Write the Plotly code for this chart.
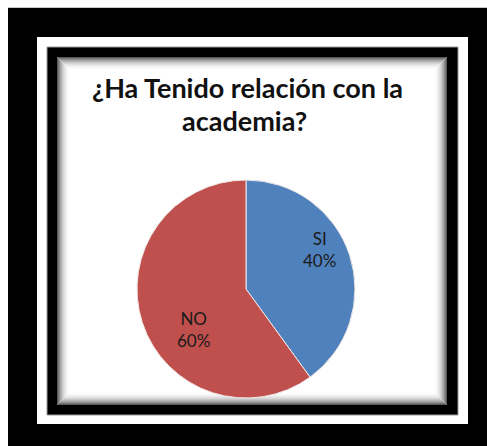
import plotly.graph_objects as go

# Survey answers and their shares (%)
categories = ["SI", "NO"]
shares = [40, 60]
slice_colors = ["#4F81BD", "#C0504D"]
title_lines = ["¿Ha Tenido relación con la", "academia?"]

W, H = 487, 446
FONT = "Lato, Carlito, 'Open Sans', sans-serif"


def px(x):
    return x / W


def py(y):
    return 1 - y / H


def rect(x0, y0, x1, y1, fill=None, line=None, lw=0):
    return dict(
        type="rect", xref="paper", yref="paper",
        x0=px(x0), y0=py(y1), x1=px(x1), y1=py(y0),
        fillcolor=fill if fill else "rgba(0,0,0,0)",
        line=dict(color=line if line else "rgba(0,0,0,0)", width=lw),
        layer="below",
    )


shapes = [
    # thin grey rule on top of the frame
    dict(type="line", xref="paper", yref="paper", x0=px(8), x1=1,
         y0=py(7.5), y1=py(7.5), line=dict(color="#c8c8c8", width=1), layer="below"),
    # outer black frame
    rect(8, 8, 490, 450, fill="#000000"),
    # white strip
    rect(37, 37, 468, 424, fill="#ffffff"),
    # inner black frame
    rect(47, 47, 458, 415, fill="#000000", line="#9a9a9a", lw=1),
    # chart area
    rect(57, 57, 447, 405, fill="#ffffff"),
]

# inner shadow along the chart-area edge
shadow = ["#5a5a5a", "#777777", "#8f8f8f", "#a4a4a4", "#b6b6b6", "#c6c6c6",
          "#d4d4d4", "#e0e0e0", "#eaeaea", "#f2f2f2", "#f8f8f8", "#fcfcfc"]
for i, c in enumerate(shadow):
    shapes.append(rect(57.5 + i, 57.5 + i, 446.5 - i, 404.5 - i, line=c, lw=1))

fig = go.Figure(
    go.Pie(
        labels=categories,
        values=shares,
        sort=False,
        direction="clockwise",
        rotation=0,
        marker=dict(colors=slice_colors, line=dict(color="#f0e8e8", width=1)),
        textinfo="none",
        hoverinfo="label+percent",
        showlegend=False,
        domain=dict(x=[px(137), px(355)], y=[py(398), py(180)]),
    )
)

annotations = []

# chart title, one line per annotation
for line, (cx, cy) in zip(title_lines, [(247, 87), (244, 120)]):
    annotations.append(dict(
        text=f"<b>{line}</b>", x=px(cx), y=py(cy), xref="paper", yref="paper",
        showarrow=False, xanchor="center", yanchor="middle",
        font=dict(family=FONT, size=27, color="#111111"),
    ))

# slice labels: category and its share
label_pos = {"SI": (319, 250), "NO": (193, 329)}
for cat, val in zip(categories, shares):
    x, y = label_pos[cat]
    annotations.append(dict(
        text=f"{cat}<br>{val}%", x=px(x), y=py(y), xref="paper", yref="paper",
        showarrow=False, align="center", xanchor="center", yanchor="middle",
        font=dict(family=FONT, size=17, color="#1a1a1a"),
    ))

fig.update_layout(
    width=W, height=H,
    margin=dict(l=0, r=0, t=0, b=0),
    paper_bgcolor="#ffffff",
    plot_bgcolor="#ffffff",
    shapes=shapes,
    annotations=annotations,
)

fig.write_html("out.html")
